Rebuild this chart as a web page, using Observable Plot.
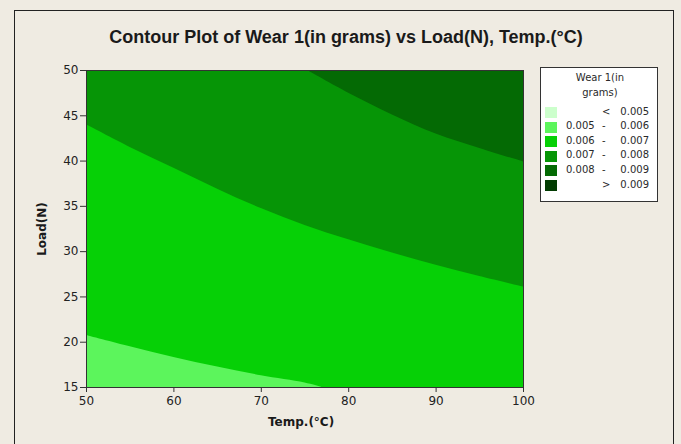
<!DOCTYPE html>
<html>
<head>
<meta charset="utf-8">
<script src="https://cdn.jsdelivr.net/npm/d3@7"></script>
<script src="https://cdn.jsdelivr.net/npm/@observablehq/plot@0.6"></script>
<style>
  html, body { margin: 0; padding: 0; background: #efebe2; }
  #wrap { position: relative; width: 681px; height: 444px; background: #efebe2; overflow: hidden; font-family: "DejaVu Sans", sans-serif; }
  #border { position: absolute; left: 14px; top: 10px; width: 660px; height: 440px; border: 1px solid #222; box-sizing: border-box; }
  #title { position: absolute; left: 0; top: 27px; width: 692px; text-align: center; font: bold 18px "Liberation Sans", sans-serif; color: #1a1a1a; }
  .axlab { position: absolute; font: bold 12px "DejaVu Sans", sans-serif; color: #1a1a1a; white-space: nowrap; }
  #legend { position: absolute; left: 540px; top: 67px; width: 118px; height: 135px; background: #fff; border: 1px solid #333; box-sizing: border-box; font: 10px "DejaVu Sans", sans-serif; color: #2a2a2a; }
  #legend .lt { position: absolute; width: 118px; left: 0; text-align: center; }
  #legend .sw { position: absolute; left: 4px; width: 12px; height: 11px; }
  #legend .t { position: absolute; white-space: nowrap; }
  #plot { position: absolute; left: 0; top: 0; }
</style>
</head>
<body>
<div id="wrap">
  <div id="border"></div>
  <div id="title">Contour Plot of Wear 1(in grams) vs Load(N), Temp.(°C)</div>
  <div id="plot"></div>
  <div class="axlab" id="xlab" style="left:268px; top:415px;">Temp.(°C)</div>
  <div class="axlab" id="ylab" style="left:42px; top:229px; transform: translate(-50%,-50%) rotate(-90deg);">Load(N)</div>
  <div id="legend"></div>
</div>
<script>
// Level classes (legend)
const levelLow = ["", "0.005", "0.006", "0.007", "0.008", ""];
const levelHigh = ["0.005", "0.006", "0.007", "0.008", "0.009", "0.009"];
const levelSym = ["<", "-", "-", "-", "-", ">"];
const levelColors = ["#ccffcc", "#5cf55c", "#06d006", "#069506", "#046a04", "#023c02"];

// Axis ticks
const tempTicks = [50, 60, 70, 80, 90, 100];
const loadTicks = [15, 20, 25, 30, 35, 40, 45, 50];

// Contour boundaries (Load at a given Temp)
// 0.006 contour
const b1Temp = [50, 55, 60, 65, 70, 75, 77];
const b1Load = [20.75, 19.5, 18.3, 17.25, 16.3, 15.5, 15.0];
// 0.007 contour
const b2Temp = [50, 55, 60, 65, 70, 75, 80, 85, 90, 95, 100];
const b2Load = [44.0, 41.5, 39.2, 36.9, 34.75, 32.9, 31.3, 29.85, 28.5, 27.25, 26.1];
// 0.008 contour
const b3Temp = [75.3, 80, 85, 90, 95, 100];
const b3Load = [50, 47.5, 45.1, 43.0, 41.4, 39.9];

const toRows = (ts, ls) => ts.map((t, i) => ({t, l: ls[i]}));
const b1 = toRows(b1Temp, b1Load);
const b2 = toRows(b2Temp, b2Load);
const b3 = toRows(b3Temp, b3Load);

const plot = Plot.plot({
  width: 681,
  height: 444,
  marginLeft: 86,
  marginRight: 158,
  marginTop: 70,
  marginBottom: 57,
  style: {background: "transparent", fontFamily: "DejaVu Sans, sans-serif", fontSize: "12px", color: "#222"},
  x: {domain: [50, 100], ticks: tempTicks, label: null},
  y: {domain: [15, 50], ticks: loadTicks, label: null},
  marks: [
    Plot.frame({fill: levelColors[3]}),
    Plot.areaY(b3, {x: "t", y1: "l", y2: 50, fill: levelColors[4], curve: "catmull-rom", clip: true}),
    Plot.areaY(b2, {x: "t", y1: 15, y2: "l", fill: levelColors[2], curve: "catmull-rom", clip: true}),
    Plot.areaY(b1, {x: "t", y1: 15, y2: "l", fill: levelColors[1], curve: "catmull-rom", clip: true}),
    Plot.frame({stroke: "#333", strokeWidth: 1}),
    Plot.axisX({ticks: tempTicks, tickSize: 5, tickPadding: 4, label: null, fontSize: 12, stroke: "#333"}),
    Plot.axisY({ticks: loadTicks, tickSize: 6, tickPadding: 2, label: null, fontSize: 12, stroke: "#333"})
  ]
});
document.getElementById("plot").appendChild(plot);

// Legend
const leg = document.getElementById("legend");
const lt1 = document.createElement("div"); lt1.className = "lt"; lt1.style.top = "4px"; lt1.textContent = "Wear 1(in"; leg.appendChild(lt1);
const lt2 = document.createElement("div"); lt2.className = "lt"; lt2.style.top = "19px"; lt2.textContent = "grams)"; leg.appendChild(lt2);
levelColors.forEach((c, i) => {
  const top = 39 + i * 14.6;
  const sw = document.createElement("div"); sw.className = "sw"; sw.style.top = top + "px"; sw.style.background = c; leg.appendChild(sw);
  if (levelLow[i]) {
    const a = document.createElement("div"); a.className = "t"; a.style.left = "25px"; a.style.top = (top - 1.5) + "px"; a.textContent = levelLow[i]; leg.appendChild(a);
  }
  const s = document.createElement("div"); s.className = "t"; s.style.left = "61px"; s.style.top = (top - 1.5) + "px"; s.textContent = levelSym[i]; leg.appendChild(s);
  const b = document.createElement("div"); b.className = "t"; b.style.right = "8px"; b.style.top = (top - 1.5) + "px"; b.textContent = levelHigh[i]; leg.appendChild(b);
});
</script>
</body>
</html>
